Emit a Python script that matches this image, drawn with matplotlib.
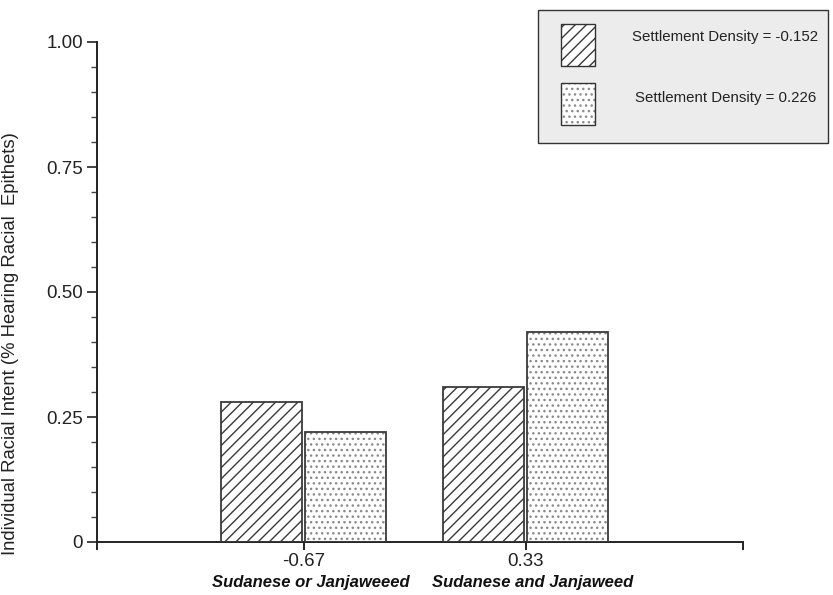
import matplotlib
matplotlib.use("Agg")
import matplotlib.pyplot as plt
from matplotlib.patches import Rectangle
import matplotlib.transforms as mtransforms
import numpy as np

plt.rcParams['font.family'] = ['Liberation Sans', 'DejaVu Sans']
plt.rcParams['hatch.linewidth'] = 1.0

# ---- data ----
group_ticks = [-0.67, 0.33]
tick_labels = ["-0.67", "0.33"]
category_names = ["Sudanese or Janjaweeed", "Sudanese and Janjaweed"]
series_names = ["Settlement Density = -0.152", "Settlement Density = 0.226"]
low_density = [0.28, 0.31]
high_density = [0.22, 0.42]
y_ticks = [0, 0.25, 0.50, 0.75, 1.00]
y_tick_labels = ["0", "0.25", "0.50", "0.75", "1.00"]
y_label = "Individual Racial Intent (% Hearing Racial  Epithets)"

W, H = 833, 595
fig = plt.figure(figsize=(W / 100, H / 100), dpi=100)
ax = fig.add_axes([97 / W, (H - 542) / H, (742.5 - 97) / W, 500 / H])

xmin, xmax = -1.602, 1.307
width = 0.365
offset = 0.19
edge = "#3a3a3a"
x = np.array(group_ticks)

styles = [("///", "#3a3a3a"), ("...", "#8a8a8a")]
for vals, off, (hatch, hcol) in zip([low_density, high_density], [-offset, offset], styles):
    ax.bar(x + off, vals, width=width, color="white", hatch=hatch,
           edgecolor=hcol, linewidth=0, zorder=2)
    ax.bar(x + off, vals, width=width, facecolor="none",
           edgecolor=edge, linewidth=1.3, zorder=3)

ax.set_xlim(xmin, xmax)
ax.set_ylim(0, 1.0)
ax.spines['top'].set_visible(False)
ax.spines['right'].set_visible(False)
for s in ['left', 'bottom']:
    ax.spines[s].set_linewidth(1.4)
    ax.spines[s].set_color("#222222")

ax.set_yticks(y_ticks)
ax.set_yticklabels(y_tick_labels, fontsize=13.5, color="#222222")
ax.set_yticks(np.arange(0, 1.001, 0.05), minor=True)
ax.tick_params(axis='y', which='major', direction='out', length=7, width=1.2, color="#222222", pad=3)
ax.tick_params(axis='y', which='minor', direction='out', length=4.5, width=1.0, color="#444444")

ax.set_xticks([xmin] + group_ticks + [xmax])
ax.set_xticklabels([""] + tick_labels + [""], fontsize=13.5, color="#222222")
ax.tick_params(axis='x', which='major', direction='out', length=6, width=1.4, color="#222222", pad=2)

ax.set_ylabel(y_label, fontsize=13.3, color="#222222")
ax.yaxis.set_label_coords(-(97 - 19) / (742.5 - 97), (542 - 343.5) / 500)

# category labels under the ticks
trans = mtransforms.blended_transform_factory(ax.transData, fig.transFigure)
for name, cx in zip(category_names, group_ticks):
    ax.text(cx + 0.03, 1 - 583 / H, name, transform=trans, ha="center", va="center",
            fontsize=12, fontweight="bold", fontstyle="italic", color="#111111",
            clip_on=False)

# legend box
fig.add_artist(Rectangle((538 / W, 1 - 143 / H), (828 - 538) / W, (143 - 10) / H,
                         transform=fig.transFigure, facecolor="#ececec",
                         edgecolor="#333333", linewidth=1.0, zorder=5))
leg_rows = [(24, 66, 37), (83, 125, 98)]
leg_text_x = [632, 635]
for (y0, y1, ty), (hatch, hcol), name, tx in zip(leg_rows, styles, series_names, leg_text_x):
    fig.add_artist(Rectangle((561 / W, 1 - y1 / H), 34 / W, (y1 - y0) / H,
                             transform=fig.transFigure, facecolor="white",
                             hatch=hatch, edgecolor=hcol, linewidth=0, zorder=6))
    fig.add_artist(Rectangle((561 / W, 1 - y1 / H), 34 / W, (y1 - y0) / H,
                             transform=fig.transFigure, facecolor="none",
                             edgecolor="#333333", linewidth=1.0, zorder=7))
    fig.text(tx / W, 1 - ty / H, name, ha="left", va="center",
             fontsize=10.8, color="#222222", zorder=8)

fig.savefig("out.png", dpi=100, facecolor="white")
